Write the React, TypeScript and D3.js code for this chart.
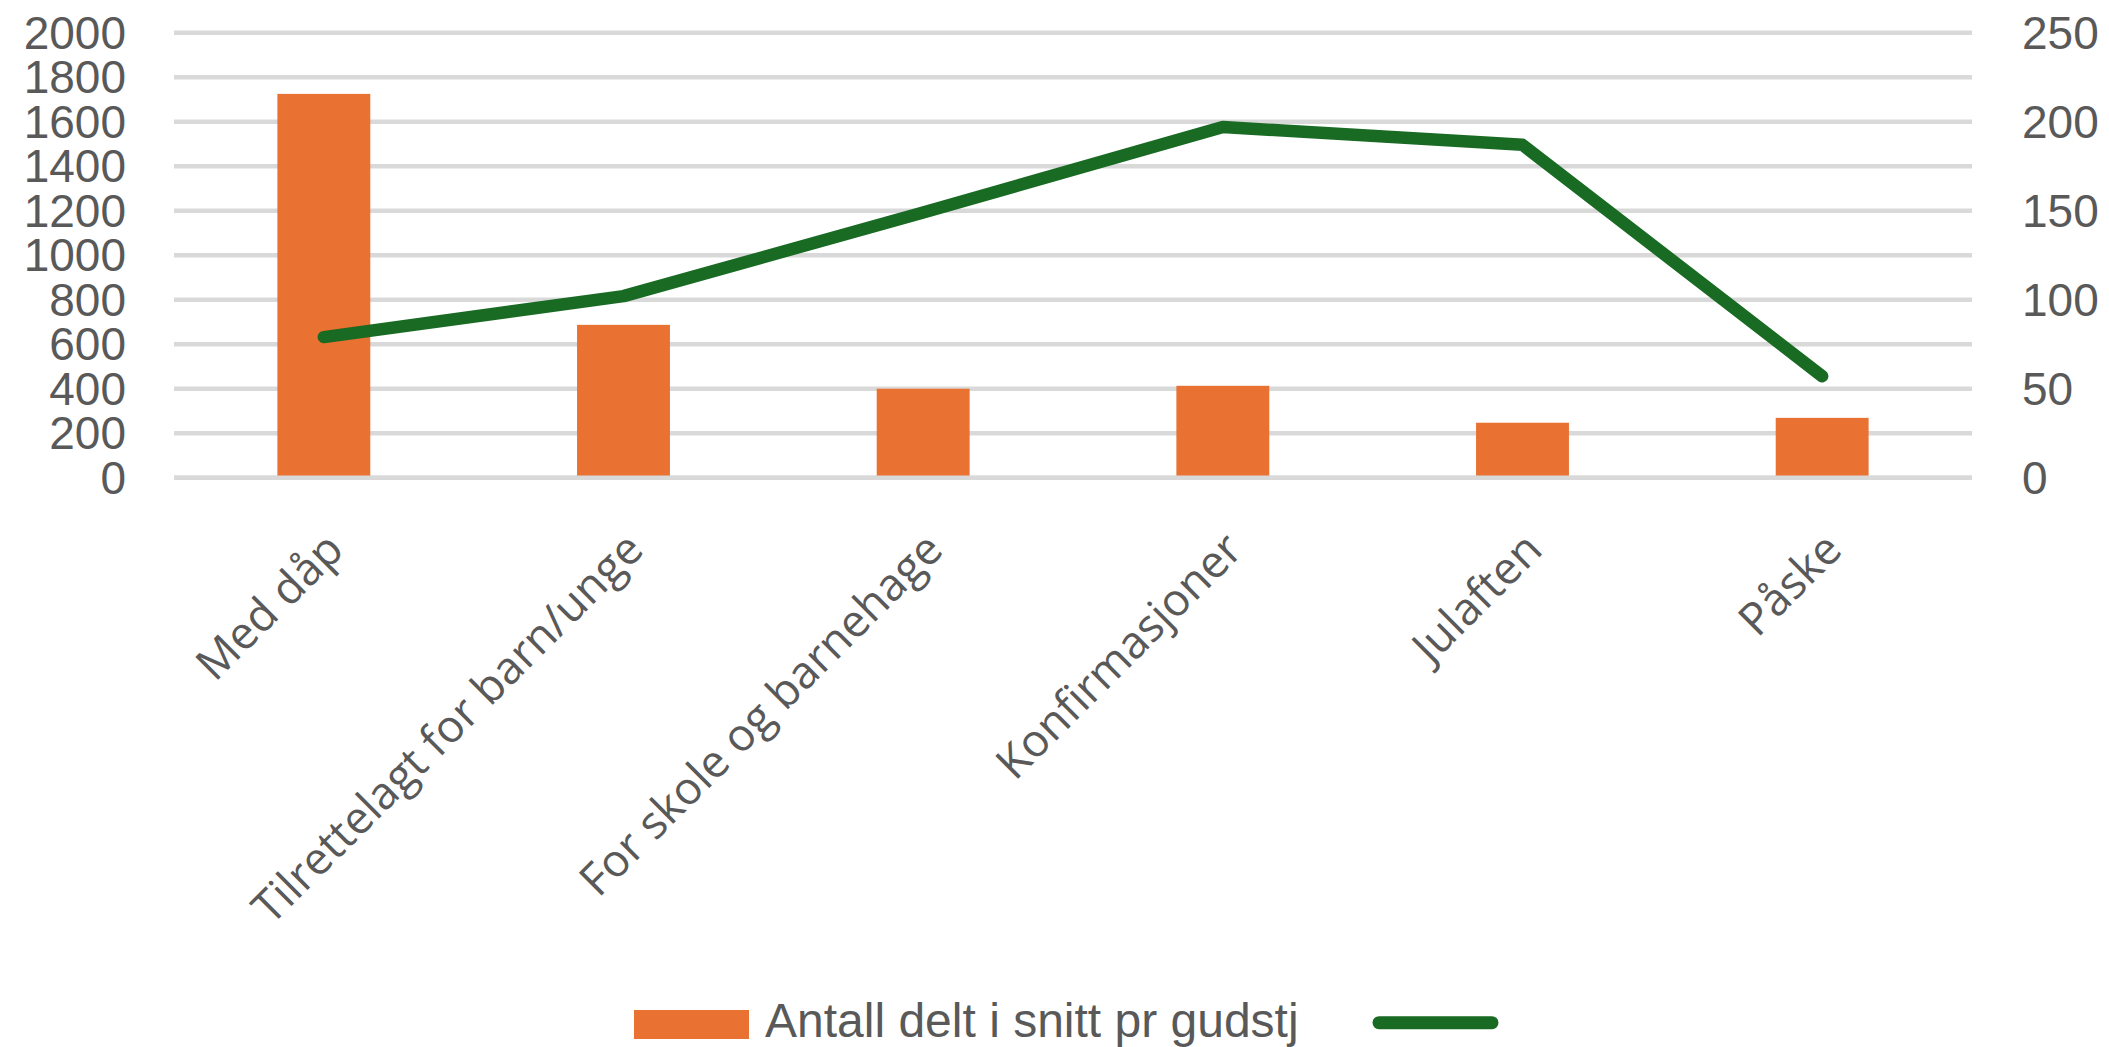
import React from "react";
import * as d3 from "d3";

const categories = [
  "Med dåp",
  "Tilrettelagt for barn/unge",
  "For skole og barnehage",
  "Konfirmasjoner",
  "Julaften",
  "Påske",
];
const barValues = [1725, 687, 400, 413, 247, 269];
const lineValues = [79, 102, 149, 197, 187, 57];
const leftTicks = [0, 200, 400, 600, 800, 1000, 1200, 1400, 1600, 1800, 2000];
const rightTicks = [0, 50, 100, 150, 200, 250];
const barSeriesName = "Antall delt i snitt pr gudstj";
const lineSeriesName = "";

const W = 2109;
const H = 1047;
const plotLeft = 174;
const plotRight = 1972;
const plotTop = 32.7;
const plotBottom = 477.7;

const ORANGE = "#E97132";
const GREEN = "#196B24";
const GRID = "#D9D9D9";
const TEXT = "#595959";
const FONT = "'Liberation Sans', Arial, sans-serif";
const CAT_FONT = "'Open Sans', 'Noto Sans', sans-serif";
const FS = 46;

export default function App() {
  const x = d3
    .scaleBand<string>()
    .domain(categories)
    .range([plotLeft, plotRight])
    .paddingInner(0.69)
    .paddingOuter(0.345);
  const yL = d3.scaleLinear().domain([0, 2000]).range([plotBottom, plotTop]);
  const yR = d3.scaleLinear().domain([0, 250]).range([plotBottom, plotTop]);

  const cx = (c: string) => (x(c) as number) + x.bandwidth() / 2;

  const line = d3
    .line<number>()
    .x((_, i) => cx(categories[i]))
    .y((d) => yR(d));

  const gridW = 4.5;

  return (
    <svg
      width={W}
      height={H}
      style={{ position: "absolute", left: 0, top: 0, background: "#fff" }}
      fontFamily={FONT}
    >
      {/* gridlines */}
      {leftTicks.map((t) => (
        <line
          key={"g" + t}
          x1={plotLeft}
          x2={plotRight}
          y1={yL(t)}
          y2={yL(t)}
          stroke={GRID}
          strokeWidth={gridW}
        />
      ))}
      {/* bars */}
      {categories.map((c, i) => (
        <rect
          key={"b" + c}
          x={x(c)}
          y={yL(barValues[i])}
          width={x.bandwidth()}
          height={yL(0) - yL(barValues[i])}
          fill={ORANGE}
        />
      ))}
      {/* zero line on top */}
      <line
        x1={plotLeft}
        x2={plotRight}
        y1={yL(0)}
        y2={yL(0)}
        stroke={GRID}
        strokeWidth={gridW}
      />
      {/* line series */}
      <path
        d={line(lineValues) || ""}
        fill="none"
        stroke={GREEN}
        strokeWidth={12.5}
        strokeLinecap="round"
        strokeLinejoin="round"
      />
      {/* left axis labels */}
      {leftTicks.map((t) => (
        <text
          key={"l" + t}
          x={126}
          y={yL(t)}
          textAnchor="end"
          dominantBaseline="central"
          fontSize={FS}
          fill={TEXT}
        >
          {t}
        </text>
      ))}
      {/* right axis labels */}
      {rightTicks.map((t) => (
        <text
          key={"r" + t}
          x={2022}
          y={yR(t)}
          textAnchor="start"
          dominantBaseline="central"
          fontSize={FS}
          fill={TEXT}
        >
          {t}
        </text>
      ))}
      {/* category labels */}
      {categories.map((c) => {
        const ax = cx(c) + 22;
        const ay = 552;
        return (
          <text
            key={"c" + c}
            x={ax}
            y={ay}
            textAnchor="end"
            fontSize={45}
            fontFamily={CAT_FONT}
            fill={TEXT}
            transform={`rotate(-45, ${ax}, ${ay})`}
          >
            {c}
          </text>
        );
      })}
      {/* legend */}
      <rect x={634} y={1010} width={115} height={29} fill={ORANGE} />
      <text x={765} y={1037} fontSize={48} fill={TEXT}>
        {barSeriesName}
      </text>
      <line
        x1={1379}
        x2={1492}
        y1={1022.7}
        y2={1022.7}
        stroke={GREEN}
        strokeWidth={13}
        strokeLinecap="round"
      />
      {lineSeriesName ? (
        <text x={1510} y={1037} fontSize={48} fill={TEXT}>
          {lineSeriesName}
        </text>
      ) : null}
    </svg>
  );
}
